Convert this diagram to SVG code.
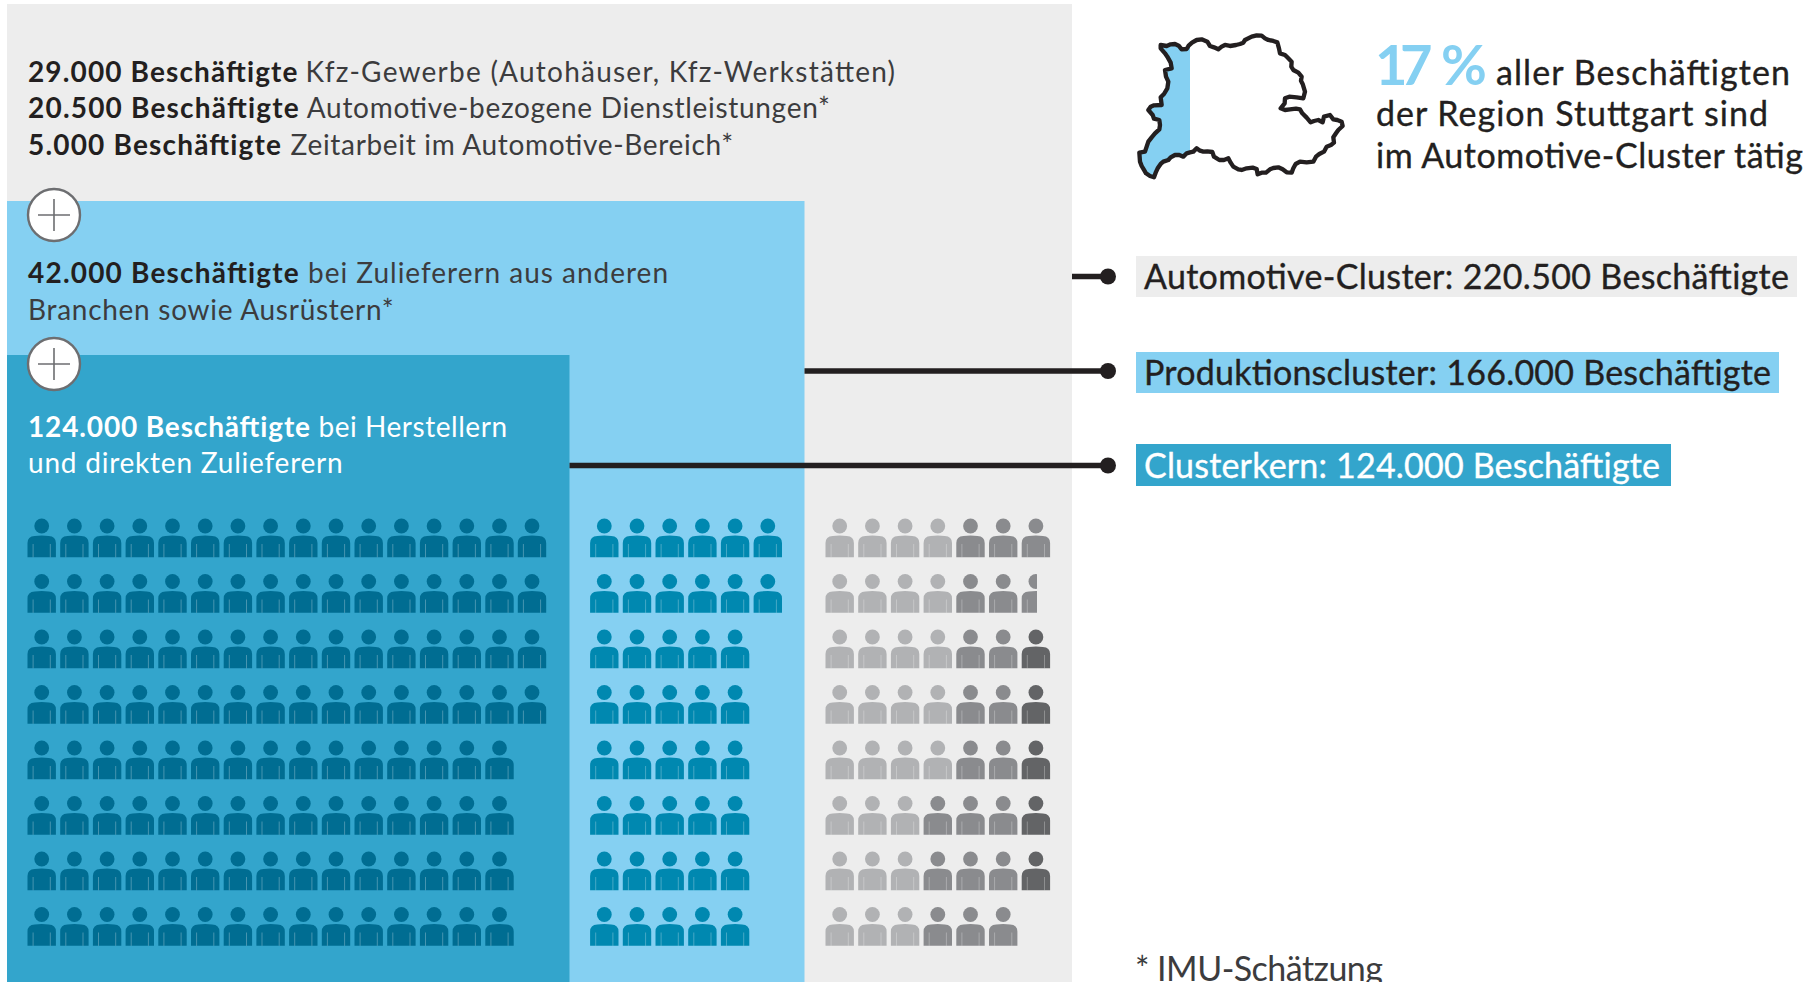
<svg xmlns="http://www.w3.org/2000/svg" xmlns:xlink="http://www.w3.org/1999/xlink" width="1814" height="982" viewBox="0 0 1814 982">
<style>
text{font-family:"Lato","Noto Sans",sans-serif;font-size:28px;fill:#3c3c3e;font-weight:400}
.b{font-weight:700;fill:#231f20}
.w{fill:#fff}
.wb{fill:#fff;font-weight:700}
.l{font-size:34px;fill:#231f20;stroke:#231f20;stroke-width:.35px}
.lw{font-size:34px;fill:#fff;stroke:#fff;stroke-width:.35px}
.conn{stroke:#231f20;stroke-width:5.5;fill:none}
.dot{fill:#231f20}
.plus{fill:#fff;stroke:#6d6e71;stroke-width:2.4}
.plusl{stroke:#6d6e71;stroke-width:1.6;fill:none}
.pd{fill:#006d92}.pl{fill:#0088b0}
.g1{fill:#b1b2b4}.g2{fill:#8a8b8e}.g3{fill:#636466}
</style>
<defs>
<g id="p"><circle cx="0" cy="0" r="7.4"/><path d="M-14.2 31.3V17Q-14.2 10.4-7 10Q0 9.2 7 10Q14.2 10.4 14.2 17V31.3Z"/><path d="M-8.6 18V31.3M8.6 18V31.3" stroke="#fff" stroke-opacity=".28" stroke-width="1" fill="none"/></g>
<g id="r5"><use xlink:href="#p"/><use xlink:href="#p" x="32.7"/><use xlink:href="#p" x="65.4"/><use xlink:href="#p" x="98.1"/><use xlink:href="#p" x="130.8"/></g>
<g id="r15"><use xlink:href="#r5"/><use xlink:href="#r5" x="163.5"/><use xlink:href="#r5" x="327"/></g>
<clipPath id="mapc"><rect x="0" y="0" width="180" height="600"/></clipPath>
<clipPath id="half"><rect x="1010" y="570" width="27" height="50"/></clipPath>
<path id="mapp" d="M92 75L110 78L122 73L135 72L146 77L155 88L170 87L176 77L186 68L200 60L215 58L232 65L240 78L252 82L265 88L275 80L285 75L300 78L318 75L330 72L340 68L345 60L365 50L380 46L395 47L405 55L415 60L430 63L442 67L447 85L450 100L465 105L472 112L485 125L484 140L490 150L505 158L515 170L513 182L518 192L525 215L520 235L500 232L478 230L465 235L464 250L452 265L465 270L480 268L498 266L510 268L517 280L530 293L542 307L552 303L565 300L578 307L582 290L600 285L610 298L622 300L635 305L638 318L625 330L618 340L610 352L612 368L603 375L590 380L582 395L568 402L558 410L550 425L530 427L510 425L497 432L490 445L485 458L470 457L458 448L445 442L430 444L420 448L408 458L395 458L383 463L380 447L368 443L350 445L335 450L325 448L310 440L302 428L295 415L282 420L268 420L252 410L247 396L232 394L220 395L210 392L200 385L190 395L180 397L170 400L160 410L148 405L135 405L122 412L115 420L100 425L92 432L83 445L77 458L72 472L60 468L48 460L42 450L35 438L30 425L28 398L45 395L50 380L55 365L65 352L75 340L88 328L90 315L88 300L72 296L68 285L55 270L62 260L72 256L95 255L92 232L102 222L112 205L115 185L108 170L105 150L125 145L122 128L112 110L105 100L92 85Z"/>
</defs>

<g id="panel-cluster"><rect x="7" y="4" width="1065" height="978" fill="#ededed"/></g>
<g id="panel-produktion"><rect x="7" y="201" width="797.5" height="781" fill="#85d0f2"/></g>
<g id="panel-kern"><rect x="7" y="355" width="562.5" height="627" fill="#33a5cc"/></g>

<g id="connectors">
<path class="conn" d="M1072 276.5H1108M804.5 371H1108M569.5 465.5H1108"/>
<circle class="dot" cx="1108" cy="276.5" r="8"/><circle class="dot" cx="1108" cy="371" r="8"/><circle class="dot" cx="1108" cy="465.5" r="8"/>
</g>

<g id="text-cluster">
<text class="b" x="28" y="82" textLength="269.5" lengthAdjust="spacing">29.000 Beschäftigte</text>
<text x="305.6" y="82" textLength="589.5" lengthAdjust="spacing">Kfz-Gewerbe (Autohäuser, Kfz-Werkstätten)</text>
<text class="b" x="28" y="118" textLength="270.7" lengthAdjust="spacing">20.500 Beschäftigte</text>
<text x="306.8" y="118" textLength="523" lengthAdjust="spacing">Automotive-bezogene Dienstleistungen*</text>
<text class="b" x="28" y="155" textLength="253" lengthAdjust="spacing">5.000 Beschäftigte</text>
<text x="290.6" y="155" textLength="442.5" lengthAdjust="spacing">Zeitarbeit im Automotive-Bereich*</text>
</g>

<g id="plus-1"><circle class="plus" cx="54" cy="215" r="26"/><path class="plusl" d="M38 215H70M54 199V231"/></g>
<g id="text-produktion">
<text class="b" x="28" y="283" textLength="270.7" lengthAdjust="spacing">42.000 Beschäftigte</text>
<text x="308" y="283" textLength="360" lengthAdjust="spacing">bei Zulieferern aus anderen</text>
<text x="28" y="320" textLength="365.6" lengthAdjust="spacing">Branchen sowie Ausrüstern*</text>
</g>
<g id="plus-2"><circle class="plus" cx="54" cy="364" r="26"/><path class="plusl" d="M38 364H70M54 348V380"/></g>
<g id="text-kern">
<text class="wb" x="28" y="437" textLength="282" lengthAdjust="spacing">124.000 Beschäftigte</text>
<text class="w" x="318.4" y="437" textLength="188.6" lengthAdjust="spacing">bei Herstellern</text>
<text class="w" x="28" y="473" textLength="314.7" lengthAdjust="spacing">und direkten Zulieferern</text>
</g>

<g id="people-kern" class="pd">
<g id="d1"><use xlink:href="#r15" x="41.7" y="526"/><use xlink:href="#p" x="532" y="526"/></g>
<g><use xlink:href="#r15" x="41.7" y="581.5"/><use xlink:href="#p" x="532" y="581.5"/></g>
<g><use xlink:href="#r15" x="41.7" y="637"/><use xlink:href="#p" x="532" y="637"/></g>
<g><use xlink:href="#r15" x="41.7" y="692.5"/><use xlink:href="#p" x="532" y="692.5"/></g>
<use xlink:href="#r15" x="41.7" y="748"/>
<use xlink:href="#r15" x="41.7" y="803.5"/>
<use xlink:href="#r15" x="41.7" y="859"/>
<use xlink:href="#r15" x="41.7" y="914.5"/>
</g>

<g id="people-produktion" class="pl">
<use xlink:href="#r5" x="604.3" y="526"/><use xlink:href="#p" x="767.8" y="526"/>
<use xlink:href="#r5" x="604.3" y="581.5"/><use xlink:href="#p" x="767.8" y="581.5"/>
<use xlink:href="#r5" x="604.3" y="637"/>
<use xlink:href="#r5" x="604.3" y="692.5"/>
<use xlink:href="#r5" x="604.3" y="748"/>
<use xlink:href="#r5" x="604.3" y="803.5"/>
<use xlink:href="#r5" x="604.3" y="859"/>
<use xlink:href="#r5" x="604.3" y="914.5"/>
</g>

<g id="people-cluster">
<g class="g1">
<use xlink:href="#p" x="839.7" y="526"/><use xlink:href="#p" x="872.4" y="526"/><use xlink:href="#p" x="905.1" y="526"/><use xlink:href="#p" x="937.8" y="526"/>
<use xlink:href="#p" x="839.7" y="581.5"/><use xlink:href="#p" x="872.4" y="581.5"/><use xlink:href="#p" x="905.1" y="581.5"/><use xlink:href="#p" x="937.8" y="581.5"/>
<use xlink:href="#p" x="839.7" y="637"/><use xlink:href="#p" x="872.4" y="637"/><use xlink:href="#p" x="905.1" y="637"/><use xlink:href="#p" x="937.8" y="637"/>
<use xlink:href="#p" x="839.7" y="692.5"/><use xlink:href="#p" x="872.4" y="692.5"/><use xlink:href="#p" x="905.1" y="692.5"/><use xlink:href="#p" x="937.8" y="692.5"/>
<use xlink:href="#p" x="839.7" y="748"/><use xlink:href="#p" x="872.4" y="748"/><use xlink:href="#p" x="905.1" y="748"/><use xlink:href="#p" x="937.8" y="748"/>
<use xlink:href="#p" x="839.7" y="803.5"/><use xlink:href="#p" x="872.4" y="803.5"/><use xlink:href="#p" x="905.1" y="803.5"/>
<use xlink:href="#p" x="839.7" y="859"/><use xlink:href="#p" x="872.4" y="859"/><use xlink:href="#p" x="905.1" y="859"/>
<use xlink:href="#p" x="839.7" y="914.5"/><use xlink:href="#p" x="872.4" y="914.5"/><use xlink:href="#p" x="905.1" y="914.5"/>
</g>
<g class="g2">
<use xlink:href="#p" x="970.5" y="526"/><use xlink:href="#p" x="1003.2" y="526"/><use xlink:href="#p" x="1035.9" y="526"/>
<use xlink:href="#p" x="970.5" y="581.5"/><use xlink:href="#p" x="1003.2" y="581.5"/>
<g clip-path="url(#half)"><use xlink:href="#p" x="1035.9" y="581.5"/></g>
<use xlink:href="#p" x="970.5" y="637"/><use xlink:href="#p" x="1003.2" y="637"/>
<use xlink:href="#p" x="970.5" y="692.5"/><use xlink:href="#p" x="1003.2" y="692.5"/>
<use xlink:href="#p" x="970.5" y="748"/><use xlink:href="#p" x="1003.2" y="748"/>
<use xlink:href="#p" x="937.8" y="803.5"/><use xlink:href="#p" x="970.5" y="803.5"/><use xlink:href="#p" x="1003.2" y="803.5"/>
<use xlink:href="#p" x="937.8" y="859"/><use xlink:href="#p" x="970.5" y="859"/><use xlink:href="#p" x="1003.2" y="859"/>
<use xlink:href="#p" x="937.8" y="914.5"/><use xlink:href="#p" x="970.5" y="914.5"/><use xlink:href="#p" x="1003.2" y="914.5"/>
</g>
<g class="g3">
<use xlink:href="#p" x="1035.9" y="637"/><use xlink:href="#p" x="1035.9" y="692.5"/><use xlink:href="#p" x="1035.9" y="748"/><use xlink:href="#p" x="1035.9" y="803.5"/><use xlink:href="#p" x="1035.9" y="859"/>
</g>
</g>

<g id="map" transform="translate(1130 20) scale(.3333)">
<g clip-path="url(#mapc)"><use xlink:href="#mapp" fill="#85d0f2"/></g>
<use xlink:href="#mapp" fill="none" stroke="#231f20" stroke-width="13" stroke-linejoin="round"/>
</g>

<g id="headline">
<text x="1375" y="85" textLength="112" lengthAdjust="spacing" style="font-size:56px;font-weight:700;fill:#85d0f2;word-spacing:10px">17 %</text>
<text class="l" x="1496" y="85" textLength="294" lengthAdjust="spacing">aller Beschäftigten</text>
<text class="l" x="1376" y="126" textLength="392" lengthAdjust="spacing">der Region Stuttgart sind</text>
<text class="l" x="1376" y="168" textLength="427" lengthAdjust="spacing">im Automotive-Cluster tätig</text>
</g>

<g id="label-cluster"><rect x="1136" y="256" width="661" height="41" fill="#ededed"/><text class="l" x="1144" y="289" textLength="645" lengthAdjust="spacing">Automotive-Cluster: 220.500 Beschäftigte</text></g>
<g id="label-produktion"><rect x="1136" y="352" width="643" height="41" fill="#85d0f2"/><text class="l" x="1144" y="385" textLength="627" lengthAdjust="spacing">Produktionscluster: 166.000 Beschäftigte</text></g>
<g id="label-kern"><rect x="1136" y="444" width="535" height="42" fill="#33a5cc"/><text class="lw" x="1144" y="478" textLength="516" lengthAdjust="spacing">Clusterkern: 124.000 Beschäftigte</text></g>
<g id="footnote"><text style="font-size:34px;fill:#3c3c3e" x="1135" y="981" textLength="248" lengthAdjust="spacing">* IMU-Schätzung</text></g>
</svg>
